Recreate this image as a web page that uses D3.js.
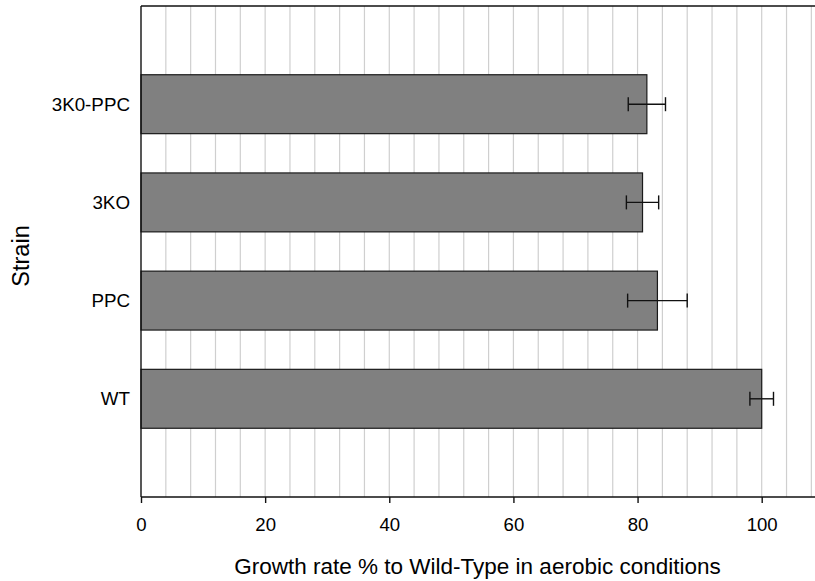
<!DOCTYPE html>
<html>
<head>
<meta charset="utf-8">
<script src="https://cdn.jsdelivr.net/npm/d3@7"></script>
<style>
  body { margin: 0; background: #fff; }
  svg { display: block; font-family: "Liberation Sans", Arial, sans-serif; }
  .grid line { stroke: #cfcfcf; stroke-width: 1.2; }
</style>
</head>
<body>
<div id="chart"></div>
<script>
// strains from bottom to top
const strains = ["WT", "PPC", "3KO", "3K0-PPC"];
const growth = [100, 83.2, 80.8, 81.5];
const errors = [1.9, 4.8, 2.6, 3.0];
const xTicks = [0, 20, 40, 60, 80, 100];

const data = strains.map((s, i) => ({strain: s, value: growth[i], err: errors[i]}));

const margin = {top: 6, right: 0, bottom: 84, left: 141};
const width = 815 - margin.left - margin.right;
const height = 581 - margin.top - margin.bottom;

const svg = d3.select("#chart")
  .append("svg")
    .attr("width", 815)
    .attr("height", 581)
  .append("g")
    .attr("transform", "translate(" + margin.left + "," + margin.top + ")");

const x = d3.scaleLinear()
  .domain([0, 100])
  .range([0, 620.7]);

const y = d3.scalePoint()
  .domain(strains)
  .range([height, 0])
  .padding(1);

const barH = y.step() * 0.6;

// vertical gridlines every 4 units
svg.append("g")
  .attr("class", "grid")
  .selectAll("line")
  .data(d3.range(4, 112, 4))
  .join("line")
    .attr("x1", d => x(d))
    .attr("x2", d => x(d))
    .attr("y1", 0)
    .attr("y2", height);

// bars
svg.append("g")
  .selectAll("rect")
  .data(data)
  .join("rect")
    .attr("x", x(0))
    .attr("y", d => y(d.strain) - barH / 2)
    .attr("width", d => x(d.value) - x(0))
    .attr("height", barH)
    .attr("fill", "#808080")
    .attr("stroke", "#1a1a1a")
    .attr("stroke-width", 1.2);

// error bars
const eb = svg.append("g")
  .attr("stroke", "#111")
  .attr("stroke-width", 1.4);

eb.selectAll(".err")
  .data(data)
  .join("line")
    .attr("class", "err")
    .attr("x1", d => x(d.value - d.err))
    .attr("x2", d => x(d.value + d.err))
    .attr("y1", d => y(d.strain))
    .attr("y2", d => y(d.strain));

eb.selectAll(".capL")
  .data(data)
  .join("line")
    .attr("class", "capL")
    .attr("x1", d => x(d.value - d.err))
    .attr("x2", d => x(d.value - d.err))
    .attr("y1", d => y(d.strain) - 7)
    .attr("y2", d => y(d.strain) + 7);

eb.selectAll(".capR")
  .data(data)
  .join("line")
    .attr("class", "capR")
    .attr("x1", d => x(d.value + d.err))
    .attr("x2", d => x(d.value + d.err))
    .attr("y1", d => y(d.strain) - 7)
    .attr("y2", d => y(d.strain) + 7);

// frame: top
svg.append("line")
  .attr("x1", 0).attr("x2", width)
  .attr("y1", 0).attr("y2", 0)
  .attr("stroke", "#111").attr("stroke-width", 1.4);

// axes
const xAxis = d3.axisBottom(x).tickValues(xTicks).tickSizeOuter(0).tickSize(6).tickPadding(15);
const xAxisG = svg.append("g")
  .attr("transform", "translate(0," + height + ")")
  .call(xAxis);
xAxisG.select(".domain").remove();
xAxisG.append("line")
  .attr("x1", 0).attr("x2", width)
  .attr("stroke", "#111").attr("stroke-width", 1.4);
xAxisG.selectAll(".tick line").attr("stroke", "#111").attr("stroke-width", 1.4);
xAxisG.selectAll("text").attr("fill", "#000").style("font-size", "18.6px");

const yAxis = d3.axisLeft(y).tickSize(0).tickPadding(11);
const yAxisG = svg.append("g").call(yAxis);
yAxisG.select(".domain").remove();
yAxisG.append("line")
  .attr("y1", 0).attr("y2", height)
  .attr("stroke", "#111").attr("stroke-width", 1.4);
yAxisG.selectAll("text").attr("fill", "#000").style("font-size", "18.8px");

// axis titles
svg.append("text")
  .attr("x", 336.5)
  .attr("y", height + 77)
  .style("text-anchor", "middle")
  .style("font-size", "22.5px")
  .text("Growth rate % to Wild-Type in aerobic conditions");

svg.append("text")
  .attr("transform", "rotate(-90)")
  .attr("x", -250)
  .attr("y", -112)
  .style("text-anchor", "middle")
  .style("font-size", "23.5px")
  .text("Strain");
</script>
</body>
</html>
